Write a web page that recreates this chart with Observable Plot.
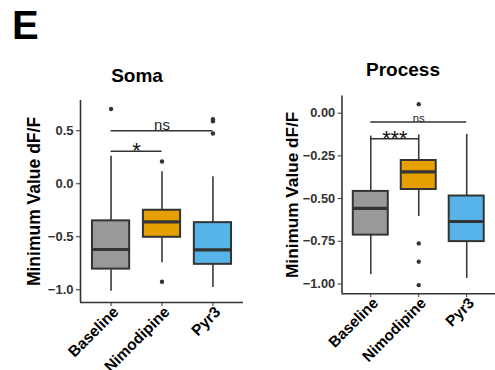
<!DOCTYPE html>
<html>
<head>
<meta charset="utf-8">
<script src="https://cdn.jsdelivr.net/npm/d3@7"></script>
<script src="https://cdn.jsdelivr.net/npm/@observablehq/plot@0.6"></script>
<style>
  html, body { margin: 0; padding: 0; background: #fff; overflow: hidden; }
  #page { position: relative; width: 495px; height: 370px; overflow: hidden; font-family: "Liberation Sans", Arial, sans-serif; }
  .abs { position: absolute; line-height: 1; font-weight: bold; color: #000; white-space: nowrap; }
  .panel { position: absolute; top: 0; }
  .panel svg { overflow: visible; }
  .panel g[aria-label="y-axis tick label"] text { font-size: 13px; font-weight: bold; fill: #333; }
  .panel g[aria-label="x-axis tick label"] text { font-size: 15.5px; font-weight: bold; fill: #000; }
  .panel g[aria-label="y-axis label"] text { font-size: 17.5px; font-weight: bold; fill: #000; }
</style>
</head>
<body>
<div id="page">
  <div class="abs" style="left:12px; top:5px; font-size:40px;">E</div>
  <div class="abs" style="left:87px; top:66px; width:100px; text-align:center; font-size:19px;">Soma</div>
  <div class="abs" style="left:353px; top:60px; width:100px; text-align:center; font-size:19px;">Process</div>
  <div id="soma" class="panel" style="left:0px;"></div>
  <div id="process" class="panel" style="left:250px;"></div>
</div>
<script>
// categories
const groups = ["Baseline", "Nimodipine", "Pyr3"];
const fills = ["#999999", "#E69F00", "#56B4E9"];

// Soma box statistics (per group)
const somaLow  = [-1.015, -0.745, -0.978];
const somaQ1   = [-0.805, -0.505, -0.760];
const somaMed  = [-0.620, -0.360, -0.624];
const somaQ3   = [-0.350, -0.250, -0.367];
const somaHigh = [ 0.260,  0.113,  0.066];
const somaOutGroup = ["Baseline", "Nimodipine", "Nimodipine", "Pyr3", "Pyr3", "Pyr3"];
const somaOutVal   = [0.705, 0.210, -0.925, 0.608, 0.590, 0.474];
const somaSigFrom  = ["Baseline", "Baseline"];
const somaSigTo    = ["Pyr3", "Nimodipine"];
const somaSigY     = [0.500, 0.307];
const somaSigLabel = ["ns", "*"];
const somaTicks = [0.5, 0.0, -0.5, -1.0];

// Process box statistics (per group)
const procLow  = [-0.945, -0.605, -0.968];
const procQ1   = [-0.714, -0.447, -0.752];
const procMed  = [-0.557, -0.344, -0.634];
const procQ3   = [-0.458, -0.277, -0.485];
const procHigh = [-0.134, -0.128, -0.124];
const procOutGroup = ["Nimodipine", "Nimodipine", "Nimodipine", "Nimodipine"];
const procOutVal   = [0.053, -0.763, -0.870, -1.007];
const procSigFrom  = ["Baseline", "Baseline"];
const procSigTo    = ["Pyr3", "Nimodipine"];
const procSigY     = [-0.052, -0.150];
const procSigLabel = ["ns", "***"];
const procTicks = [0.0, -0.25, -0.5, -0.75, -1.0];

const pos = g => groups.indexOf(g) + 1;
const xTicks = groups.map(pos);
const HALF = 0.365;
const XDOM = [0.4, 3.6];

function panel(cfg) {
  const boxes = groups.map((g, i) => ({
    g, x: i + 1, low: cfg.low[i], q1: cfg.q1[i], med: cfg.med[i], q3: cfg.q3[i], high: cfg.high[i], fill: fills[i]
  }));
  const outs = cfg.outGroup.map((g, i) => ({x: pos(g), y: cfg.outVal[i]}));
  const sigs = cfg.sigFrom.map((f, i) => ({x1: pos(f), x2: pos(cfg.sigTo[i]), y: cfg.sigY[i], label: cfg.sigLabel[i]}));
  const sigText = sigs.map(s => ({...s, xm: (s.x1 + s.x2) / 2, big: s.label !== "ns"}));
  return Plot.plot({
    width: cfg.width,
    height: 370,
    marginLeft: cfg.marginLeft,
    marginRight: cfg.marginRight,
    marginTop: cfg.marginTop,
    marginBottom: cfg.marginBottom,
    style: {color: "#333", background: "transparent", fontFamily: "Liberation Sans, Arial, sans-serif", fontSize: "13px", fontWeight: "bold", overflow: "visible"},
    x: {domain: XDOM, label: null},
    y: {domain: cfg.ydomain, label: null},
    marks: [
      Plot.axisX({ticks: xTicks, tickSize: 4, tickFormat: () => "", label: null}),
      Plot.axisX({ticks: xTicks, tickFormat: d => groups[d - 1], tickSize: 0, tickRotate: -45, tickPadding: 3, dx: 5, dy: 4, label: null}),
      Plot.axisY({ticks: cfg.ticks, tickFormat: cfg.fmt, tickSize: 4, tickPadding: 3,
        label: "Minimum Value dF/F", labelArrow: "none", labelAnchor: "center", labelOffset: cfg.labelOffset}),
      Plot.ruleX(boxes, {x: "x", y1: "low", y2: "high", stroke: "#3a3a3a", strokeWidth: 1.6}),
      Plot.rect(boxes, {x1: d => d.x - HALF, x2: d => d.x + HALF, y1: "q1", y2: "q3", fill: "fill", stroke: "#333", strokeWidth: 2}),
      Plot.ruleY(boxes, {x1: d => d.x - HALF, x2: d => d.x + HALF, y: "med", stroke: "#333", strokeWidth: 3.2}),
      Plot.dot(outs, {x: "x", y: "y", r: 2.2, fill: "#333", stroke: "none"}),
      Plot.ruleY(sigs, {x1: "x1", x2: "x2", y: "y", stroke: "#333", strokeWidth: 1.6}),
      Plot.text(sigText.filter(d => !d.big), {x: "xm", y: "y", text: "label", fontSize: cfg.nsSize, fontWeight: "normal", fill: "#222", lineAnchor: "bottom", dy: cfg.nsDy}),
      Plot.text(sigText.filter(d => d.big), {x: "xm", y: "y", text: "label", fontSize: 22, fontWeight: "normal", fill: "#111", lineAnchor: "bottom", dy: 7}),
      Plot.ruleY([cfg.ydomain[0]], {stroke: "#333", strokeWidth: 1.6}),
      Plot.ruleX([XDOM[0]], {stroke: "#333", strokeWidth: 1.6})
    ]
  });
}

document.getElementById("soma").append(panel({
  width: 250, marginLeft: 80, marginRight: 7, marginTop: 100, marginBottom: 68,
  low: somaLow, q1: somaQ1, med: somaMed, q3: somaQ3, high: somaHigh,
  outGroup: somaOutGroup, outVal: somaOutVal,
  sigFrom: somaSigFrom, sigTo: somaSigTo, sigY: somaSigY, sigLabel: somaSigLabel,
  ydomain: [-1.12, 0.785], ticks: somaTicks, fmt: d3.format(".1f"), labelOffset: 53, nsSize: 15, nsDy: -1
}));

document.getElementById("process").append(panel({
  width: 249, marginLeft: 93, marginRight: 0, marginTop: 97, marginBottom: 72,
  low: procLow, q1: procQ1, med: procMed, q3: procQ3, high: procHigh,
  outGroup: procOutGroup, outVal: procOutVal,
  sigFrom: procSigFrom, sigTo: procSigTo, sigY: procSigY, sigLabel: procSigLabel,
  ydomain: [-1.057, 0.101], ticks: procTicks, fmt: d3.format(".2f"), labelOffset: 57, nsSize: 11.5, nsDy: 0
}));
</script>
</body>
</html>
